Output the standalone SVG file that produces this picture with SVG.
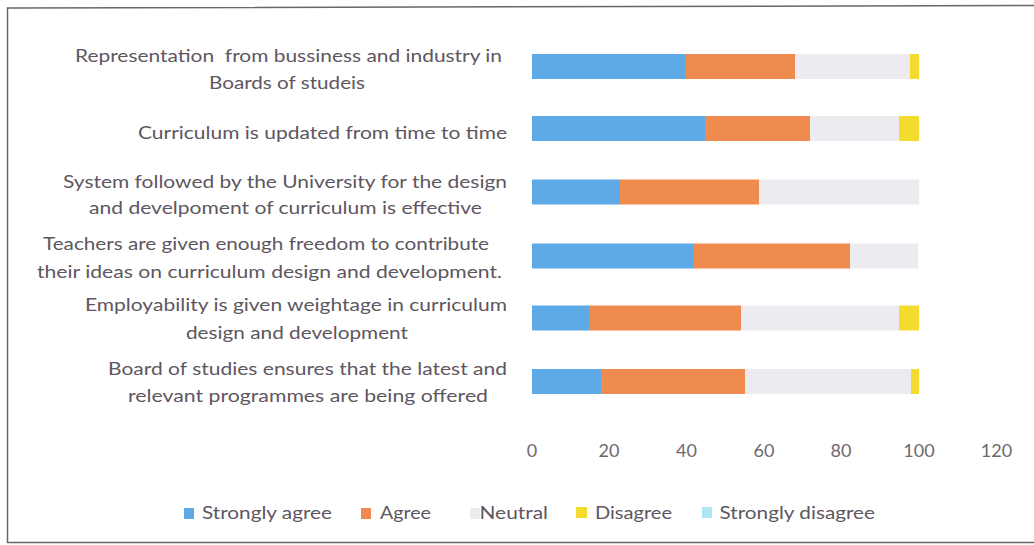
<svg xmlns="http://www.w3.org/2000/svg" width="1034" height="545" viewBox="0 0 1034 545">
<style>
.lbl{font-family:Lato,"Liberation Sans",sans-serif;font-size:18px;fill:#5e5661;white-space:pre}
.ax{font-family:Lato,"Liberation Sans",sans-serif;font-size:18px;fill:#6e6870;text-anchor:middle}
.sa{fill:#5eaae6}.ag{fill:#f08b50}.ne{fill:#eeebf0}.di{fill:#f4dc2e}.sd{fill:#aee6f4}
.frame{fill:none;stroke:#6b6570;stroke-width:1.5}
</style>
<rect width="1034" height="545" fill="#ffffff"/>
<path class="frame" d="M1034,5.5 L7.5,8 L7.5,542.5 L1034,542.5"/>
<g id="labels">
<g id="label1">
<text class="lbl" x="75" y="62" textLength="427" lengthAdjust="spacingAndGlyphs">Representation  from bussiness and industry in</text>
<text class="lbl" x="209" y="89" textLength="156" lengthAdjust="spacingAndGlyphs">Boards of studeis</text>
</g>
<g id="label2">
<text class="lbl" x="138" y="139" textLength="369" lengthAdjust="spacingAndGlyphs">Curriculum is updated from time to time</text>
</g>
<g id="label3">
<text class="lbl" x="63" y="188" textLength="444" lengthAdjust="spacingAndGlyphs">System followed by the University for the design</text>
<text class="lbl" x="89" y="214" textLength="393" lengthAdjust="spacingAndGlyphs">and develpoment of curriculum is effective</text>
</g>
<g id="label4">
<text class="lbl" x="43" y="250" textLength="446" lengthAdjust="spacingAndGlyphs">Teachers are given enough freedom to contribute</text>
<text class="lbl" x="37" y="278" textLength="465" lengthAdjust="spacingAndGlyphs">their ideas on curriculum design and development.</text>
</g>
<g id="label5">
<text class="lbl" x="85" y="311" textLength="422" lengthAdjust="spacingAndGlyphs">Employability is given weightage in curriculum</text>
<text class="lbl" x="186" y="339" textLength="222" lengthAdjust="spacingAndGlyphs">design and development</text>
</g>
<g id="label6">
<text class="lbl" x="108" y="375" textLength="399" lengthAdjust="spacingAndGlyphs">Board of studies ensures that the latest and</text>
<text class="lbl" x="128" y="402" textLength="360" lengthAdjust="spacingAndGlyphs">relevant programmes are being offered</text>
</g>
</g>
<g id="bars">
<g id="bar1">
<rect class="sa" x="532" y="54" width="154" height="25"/>
<rect class="ag" x="686" y="54" width="109" height="25"/>
<rect class="ne" x="795" y="54" width="115" height="25"/>
<rect class="di" x="910" y="54" width="9" height="25"/>
</g>
<g id="bar2">
<rect class="sa" x="532" y="116" width="173" height="25"/>
<rect class="ag" x="705" y="116" width="105" height="25"/>
<rect class="ne" x="810" y="116" width="89" height="25"/>
<rect class="di" x="899" y="116" width="20" height="25"/>
</g>
<g id="bar3">
<rect class="sa" x="532" y="179.5" width="88" height="25"/>
<rect class="ag" x="620" y="179.5" width="139" height="25"/>
<rect class="ne" x="759" y="179.5" width="160" height="25"/>
</g>
<g id="bar4">
<rect class="sa" x="532" y="243.5" width="162" height="25"/>
<rect class="ag" x="694" y="243.5" width="156" height="25"/>
<rect class="ne" x="850" y="243.5" width="68" height="25"/>
</g>
<g id="bar5">
<rect class="sa" x="532" y="305.5" width="58" height="25"/>
<rect class="ag" x="590" y="305.5" width="151" height="25"/>
<rect class="ne" x="741" y="305.5" width="158" height="25"/>
<rect class="di" x="899" y="305.5" width="20" height="25"/>
</g>
<g id="bar6">
<rect class="sa" x="532" y="369" width="69" height="25"/>
<rect class="ag" x="601" y="369" width="144" height="25"/>
<rect class="ne" x="745" y="369" width="166" height="25"/>
<rect class="di" x="911" y="369" width="8" height="25"/>
</g>
</g>
<g id="axis">
<text class="ax" x="532" y="457">0</text>
<text class="ax" x="609" y="457">20</text>
<text class="ax" x="686.5" y="457">40</text>
<text class="ax" x="764" y="457">60</text>
<text class="ax" x="841" y="457">80</text>
<text class="ax" x="919" y="457">100</text>
<text class="ax" x="996.5" y="457">120</text>
</g>
<g id="legend">
<rect class="sa" x="184" y="508" width="10" height="11"/>
<text class="lbl" x="202" y="519" textLength="130" lengthAdjust="spacingAndGlyphs">Strongly agree</text>
<rect class="ag" x="361" y="508" width="10" height="11"/>
<text class="lbl" x="380" y="519" textLength="51" lengthAdjust="spacingAndGlyphs">Agree</text>
<rect class="ne" x="470" y="508" width="10" height="11"/>
<text class="lbl" x="479.5" y="519" textLength="68.5" lengthAdjust="spacingAndGlyphs">Neutral</text>
<rect class="di" x="576" y="507" width="11" height="11"/>
<text class="lbl" x="595" y="519" textLength="77" lengthAdjust="spacingAndGlyphs">Disagree</text>
<rect class="sd" x="702" y="507" width="10" height="11"/>
<text class="lbl" x="719.5" y="519" textLength="155.5" lengthAdjust="spacingAndGlyphs">Strongly disagree</text>
</g>
</svg>
